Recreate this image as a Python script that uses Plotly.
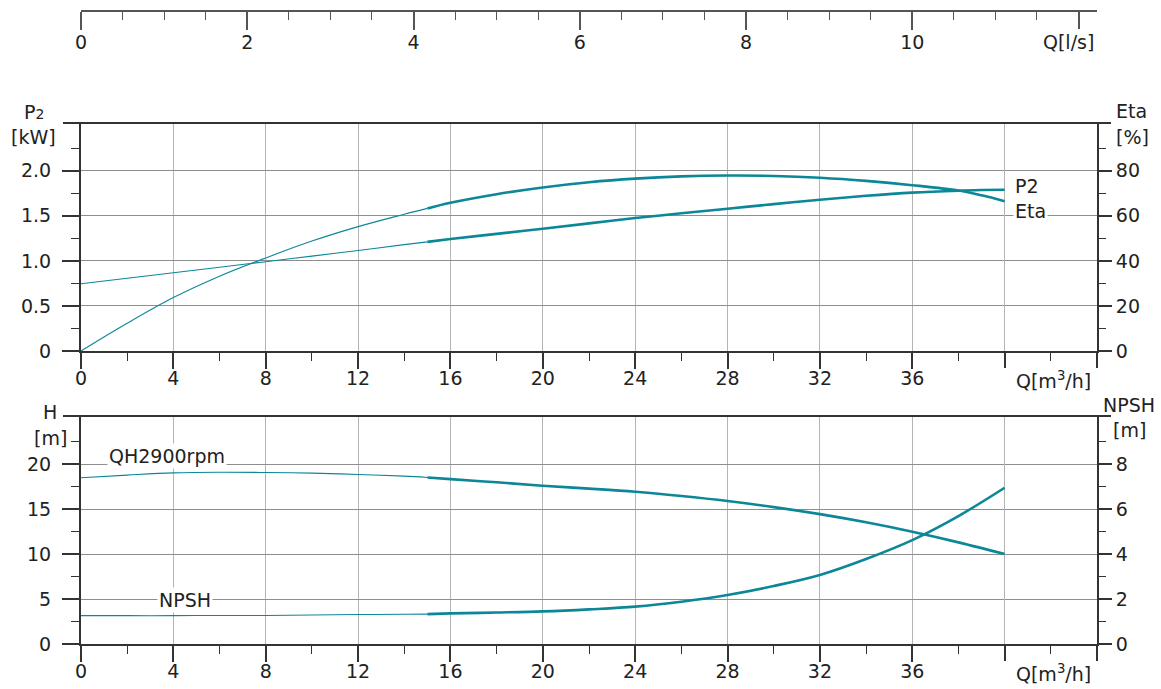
import plotly.graph_objects as go

# ---------------- data ----------------
q_top = [0, 2, 4, 6, 8, 10, 12, 14, 15, 16, 18, 20, 22, 24, 26, 28, 30, 32, 34, 36, 38, 39, 40]
eta = [0, 12.3, 23.7, 33.2, 41.3, 48.8, 55.2, 60.7, 63.3, 65.8, 69.6, 72.6, 74.9, 76.5, 77.5, 77.9, 77.7, 76.9, 75.5, 73.6, 71.2, 69.1, 66.5]
p2 = [0.747, 0.808, 0.869, 0.930, 0.991, 1.053, 1.116, 1.180, 1.211, 1.242, 1.300, 1.357, 1.416, 1.475, 1.528, 1.579, 1.630, 1.679, 1.722, 1.757, 1.779, 1.786, 1.790]

q_bot = [0, 2, 4, 6, 8, 10, 12, 14, 15, 16, 18, 20, 22, 24, 26, 28, 30, 32, 34, 36, 38, 40]
head = [18.48, 18.78, 19.03, 19.10, 19.07, 19.00, 18.85, 18.66, 18.52, 18.33, 17.98, 17.59, 17.28, 16.93, 16.45, 15.89, 15.22, 14.44, 13.53, 12.48, 11.30, 10.00]
npsh = [1.26, 1.26, 1.26, 1.27, 1.27, 1.29, 1.31, 1.32, 1.33, 1.36, 1.40, 1.45, 1.54, 1.66, 1.88, 2.18, 2.58, 3.07, 3.78, 4.62, 5.69, 6.95]

x_major = [0, 4, 8, 12, 16, 20, 24, 28, 32, 36]
x_labels = ["0", "4", "8", "12", "16", "20", "24", "28", "32", "36"]
x_end_ticks = [40, 44]
x_minor = [2, 6, 10, 14, 18, 22, 26, 30, 34, 38, 42]
ls_major = [0, 2, 4, 6, 8, 10]
ls_labels = ["0", "2", "4", "6", "8", "10"]
ls_end_ticks = [12]
p2_ticks = [0, 0.5, 1.0, 1.5, 2.0]
p2_labels = ["0", "0.5", "1.0", "1.5", "2.0"]
p2_minor = [0.25, 0.75, 1.25, 1.75, 2.25]
eta_ticks = [0, 20, 40, 60, 80]
eta_minor = [10, 30, 50, 70, 90]
h_ticks = [0, 5, 10, 15, 20]
h_minor = [2.5, 7.5, 12.5, 17.5, 22.5]
npsh_ticks = [0, 2, 4, 6, 8]
npsh_minor = [1, 3, 5, 7, 9]

# ---------------- style ----------------
W, H = 1161, 689
CURVE = "#0b8798"
AX = "#333333"
GRID_H = "#8e8e8e"
GRID_V = "#b4b4b4"
FONT = "DejaVu Sans, Verdana, sans-serif"
TXT = "#222222"
FS = 19


def px(x):
    return x / W


def py(y):
    return 1 - y / H


XD = [px(81), px(1097)]
TOP_D = [py(351), py(123)]
BOT_D = [py(644), py(416)]


def split(q, v, cut=15):
    a = [(qq, vv) for qq, vv in zip(q, v) if qq <= cut]
    b = [(qq, vv) for qq, vv in zip(q, v) if qq >= cut]
    return [p[0] for p in a], [p[1] for p in a], [p[0] for p in b], [p[1] for p in b]


fig = go.Figure()


def add_curve(q, v, xa, ya):
    qa, va, qb, vb = split(q, v)
    fig.add_trace(go.Scatter(x=qa, y=va, xaxis=xa, yaxis=ya, mode="lines",
                             line=dict(color=CURVE, width=1.1, shape="spline"),
                             showlegend=False, hoverinfo="skip"))
    fig.add_trace(go.Scatter(x=qb, y=vb, xaxis=xa, yaxis=ya, mode="lines",
                             line=dict(color=CURVE, width=2.6, shape="spline"),
                             showlegend=False, hoverinfo="skip"))


add_curve(q_top, p2, "x", "y")
add_curve(q_top, eta, "x", "y2")
add_curve(q_bot, head, "x2", "y3")
add_curve(q_bot, npsh, "x2", "y4")


def ghost(xa, ya):
    # invisible placeholder so that the helper axes get drawn
    fig.add_trace(go.Scatter(x=[0], y=[0], xaxis=xa, yaxis=ya, mode="markers",
                             marker=dict(opacity=0, size=1), showlegend=False, hoverinfo="skip"))


ghost("x3", "y5")
ghost("x4", "y")
ghost("x5", "y3")
ghost("x6", "y5")

tickfont = dict(family=FONT, size=FS, color=TXT)

xcommon = dict(domain=XD, range=[0, 44], tickmode="array", tickvals=x_major, ticktext=x_labels,
               ticks="outside", ticklen=16, tickwidth=1.6, tickcolor=AX,
               showline=True, linecolor=AX, linewidth=2, automargin=False,
               showgrid=True, gridcolor=GRID_V, gridwidth=1.3, zeroline=False,
               minor=dict(tickvals=x_minor, ticks="outside",
                          ticklen=8, tickwidth=1, tickcolor=AX, showgrid=False),
               tickfont=tickfont, ticklabelstandoff=-7, fixedrange=True)

# extra axes only carrying the unlabeled end ticks (and the gridline at 40)
xend = dict(domain=XD, range=[0, 44], tickmode="array", tickvals=x_end_ticks,
            ticks="outside", ticklen=16, tickwidth=1.6, tickcolor=AX, showticklabels=False,
            showline=False, showgrid=True, gridcolor=GRID_V, gridwidth=1.3, zeroline=False,
            automargin=False, fixedrange=True)

ybase = dict(showline=True, linecolor=AX, linewidth=2, zeroline=False, ticks="outside",
             tickwidth=1.6, tickcolor=AX, tickfont=tickfont, fixedrange=True, tickmode="array",
             automargin=False)

fig.update_layout(
    width=W, height=H,
    margin=dict(l=0, r=0, t=0, b=0, autoexpand=False),
    paper_bgcolor="white", plot_bgcolor="rgba(0,0,0,0)",
    xaxis=dict(anchor="y", **xcommon),
    xaxis2=dict(anchor="y3", **xcommon),
    xaxis4=dict(anchor="y", overlaying="x", **xend),
    xaxis5=dict(anchor="y3", overlaying="x2", **xend),
    xaxis3=dict(domain=XD, anchor="y5", range=[0, 44 / 3.6], tickmode="array",
                tickvals=ls_major, ticktext=ls_labels, ticks="outside", ticklen=18,
                tickwidth=1.6, tickcolor="#555555", showline=True, linecolor="#555555", linewidth=2,
                showgrid=False, zeroline=False, automargin=False,
                minor=dict(dtick=0.5, tick0=0, ticks="outside", ticklen=8, tickwidth=1,
                           tickcolor="#555555", showgrid=False),
                tickfont=tickfont, ticklabelstandoff=-3, fixedrange=True),
    xaxis6=dict(domain=XD, anchor="y5", overlaying="x3", range=[0, 44 / 3.6], tickmode="array",
                tickvals=ls_end_ticks, ticks="outside", ticklen=18, tickwidth=1.6,
                tickcolor="#555555", showticklabels=False, showline=False, showgrid=False,
                zeroline=False, automargin=False, fixedrange=True),
    yaxis=dict(domain=TOP_D, anchor="x", range=[0, 2.53], tickvals=p2_ticks, ticktext=p2_labels,
               showgrid=True, gridcolor=GRID_H, gridwidth=1.3, ticklen=17,
               minor=dict(tickvals=p2_minor, ticks="outside", ticklen=8,
                          tickwidth=1, tickcolor=AX, showgrid=False),
               ticklabelstandoff=7, **ybase),
    yaxis2=dict(domain=TOP_D, anchor="x", overlaying="y", side="right", range=[0, 101.2],
                tickvals=eta_ticks, showgrid=False, ticklen=13,
                minor=dict(tickvals=eta_minor, ticks="outside", ticklen=7,
                           tickwidth=1, tickcolor=AX, showgrid=False),
                ticklabelstandoff=0, **ybase),
    yaxis3=dict(domain=BOT_D, anchor="x2", range=[0, 25.35], tickvals=h_ticks,
                showgrid=True, gridcolor=GRID_H, gridwidth=1.3, ticklen=17,
                minor=dict(tickvals=h_minor, ticks="outside", ticklen=8,
                           tickwidth=1, tickcolor=AX, showgrid=False),
                ticklabelstandoff=7, **ybase),
    yaxis4=dict(domain=BOT_D, anchor="x2", overlaying="y3", side="right", range=[0, 10.14],
                tickvals=npsh_ticks, showgrid=False, ticklen=13,
                minor=dict(tickvals=npsh_minor, ticks="outside", ticklen=7,
                           tickwidth=1, tickcolor=AX, showgrid=False),
                ticklabelstandoff=0, **ybase),
    yaxis5=dict(domain=[py(9.5), py(4)], anchor="x3", visible=False, range=[0, 1],
                fixedrange=True, automargin=False),
)

# top frame lines of both panels
for ytop in (123, 416):
    fig.add_shape(type="line", xref="paper", yref="paper", x0=px(63), x1=px(1111),
                  y0=py(ytop), y1=py(ytop), line=dict(color=AX, width=2))


def ann(text, x, y, xanchor="center", bg=None, size=FS):
    fig.add_annotation(text=text, xref="paper", yref="paper", x=px(x), y=py(y),
                       xanchor=xanchor, yanchor="middle", showarrow=False,
                       font=dict(family=FONT, size=size, color=TXT),
                       bgcolor=bg if bg else "rgba(0,0,0,0)", borderpad=1)


ann("P<span style='font-size:14px'>2</span>", 34, 112)
ann("[kW]", 33, 137)
ann("Eta", 1114, 111, xanchor="left")
ann("[%]", 1114, 137, xanchor="left")
ann("P2", 1013, 186, xanchor="left")
ann("Eta", 1013, 211, xanchor="left", bg="white")
ann("Q[m<sup>3</sup>/h]", 1053, 380)
ann("Q[m<sup>3</sup>/h]", 1053, 673)
ann("Q[l/s]", 1068, 42)
ann("H", 50, 412)
ann("[m]", 50, 438)
ann("NPSH", 1129, 405)
ann("[m]", 1129, 430)
ann("QH2900rpm", 167, 456, bg="white")
ann("NPSH", 185, 600, bg="white")

fig.write_html("out.html", config={"displayModeBar": False},
               post_script="document.body.style.margin='0';document.body.style.overflow='hidden';")
